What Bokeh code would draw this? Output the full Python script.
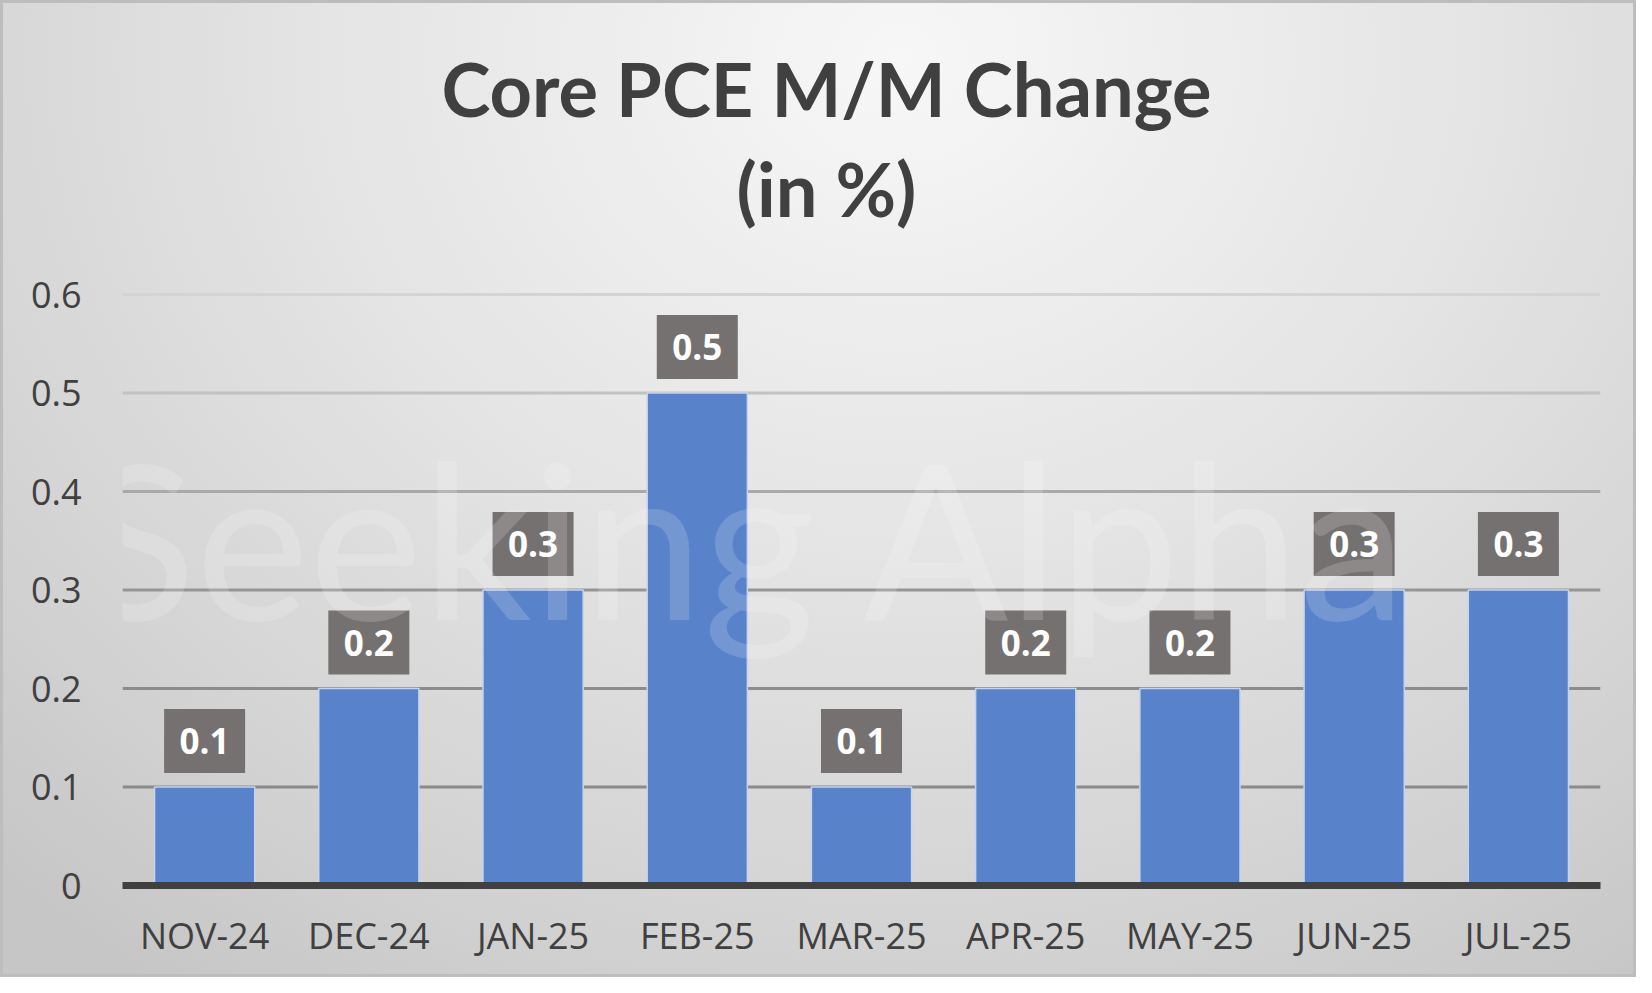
from bokeh.plotting import figure
from bokeh.models import Range1d, FactorRange, ColumnDataSource, Label, Span, FixedTicker
from bokeh.core.properties import value
from bokeh.embed import file_html
from bokeh.resources import INLINE

# ---- data ----
months = ["NOV-24", "DEC-24", "JAN-25", "FEB-25", "MAR-25", "APR-25", "MAY-25", "JUN-25", "JUL-25"]
changes = [0.1, 0.2, 0.3, 0.5, 0.1, 0.2, 0.2, 0.3, 0.3]
y_ticks = [0, 0.1, 0.2, 0.3, 0.4, 0.5, 0.6]
title_lines = ["Core PCE M/M Change", "(in %)"]
watermark = "Seeking Alpha"

# ---- layout (pixels) ----
W, H = 1636, 977
LEFT, RIGHT, TOP, BOTTOM = 122, 36, 0, 92
PPU = 985.0                      # pixels per 1.0 on the y axis
frame_h = H - TOP - BOTTOM
Y0, Y1 = 0, frame_h / PPU        # frame reaches the top so the title fits inside it
BOX_W, BOX_H, GAP = 81, 64, 14
box_off = (GAP + BOX_H / 2) / PPU


def y_at(px_from_bottom):
    return px_from_bottom / PPU


src = ColumnDataSource(dict(
    month=months,
    change=changes,
    box_y=[v + box_off for v in changes],
    label=[f"{v:g}" for v in changes],
))

p = figure(width=W, height=H,
           x_range=FactorRange(*months), y_range=Range1d(Y0, Y1),
           output_backend="svg", toolbar_location=None,
           min_border_left=LEFT, min_border_right=RIGHT,
           min_border_top=TOP, min_border_bottom=BOTTOM)
p.background_fill_color = None
p.border_fill_color = None
p.outline_line_color = None
p.styles = {
    "background": "radial-gradient(ellipse 80% 115% at 55% 6%, #f7f7f7 0%, #e4e4e4 45%, #d2d2d2 80%, #c6c6c6 100%)",
    "box-shadow": "inset 0 0 0 3px #bdbdbd",
}

p.xgrid.grid_line_color = None
p.ygrid.grid_line_color = None

grid_cols = ["#8a8a8a", "#8c8c8c", "#959595", "#a9a9a9", "#c2c2c2", "#d4d4d4"]
for t, c in zip(y_ticks[1:], grid_cols):
    p.add_layout(Span(location=t, dimension="width", line_color=c, line_width=3, level="underlay"))

p.vbar(x="month", top="change", width=0.61, source=src,
       fill_color="#5882C9", line_color="#C6D4EE", line_width=1.5)

p.rect(x="month", y="box_y", width=BOX_W, height=BOX_H,
       width_units="screen", height_units="screen",
       fill_color="#767171", line_color=None, source=src)
p.text(x="month", y="box_y", text="label", source=src,
       text_align="center", text_baseline="middle", text_color="white",
       text_font=value("Open Sans"), text_font_style="bold", text_font_size="35px")

# axes
p.yaxis.ticker = FixedTicker(ticks=y_ticks)
p.yaxis.major_label_overrides = {t: f"{t:g}" for t in y_ticks}
p.yaxis.axis_line_color = None
p.yaxis.major_tick_line_color = None
p.yaxis.minor_tick_line_color = None
p.yaxis.major_label_standoff = 35
p.yaxis.major_label_text_font = "Open Sans"
p.yaxis.major_label_text_font_size = "36px"
p.yaxis.major_label_text_color = "#404040"

p.xaxis.axis_line_color = "#404040"
p.xaxis.axis_line_width = 7
p.xaxis.major_tick_line_color = None
p.xaxis.minor_tick_line_color = None
p.xaxis.major_label_standoff = 19
p.xaxis.major_label_text_font = "Open Sans"
p.xaxis.major_label_text_font_size = "36px"
p.xaxis.major_label_text_color = "#404040"

# title: x in screen px from the frame's left edge, y in data units
TITLE_CX = 826 - LEFT
p.add_layout(Label(x=TITLE_CX, y=y_at(885 - 115 + 27), x_units="screen", y_units="data",
                   text=title_lines[0], text_align="center", text_baseline="alphabetic",
                   text_font="Lato", text_font_style="bold", text_font_size="74px",
                   text_color="#404040"))
p.add_layout(Label(x=TITLE_CX, y=y_at(885 - 215 + 27), x_units="screen", y_units="data",
                   text=title_lines[1], text_align="center", text_baseline="alphabetic",
                   text_font="Lato", text_font_style="bold", text_font_size="74px",
                   text_color="#404040"))

# faint watermark
p.add_layout(Label(x=79 - LEFT, y=y_at(885 - 622 + 86), x_units="screen", y_units="data",
                   text=watermark, text_align="left", text_baseline="alphabetic",
                   text_font="Lato", text_font_size="215px",
                   text_color="white", text_alpha=0.17))

open("out.html", "w").write(file_html(p, INLINE))
